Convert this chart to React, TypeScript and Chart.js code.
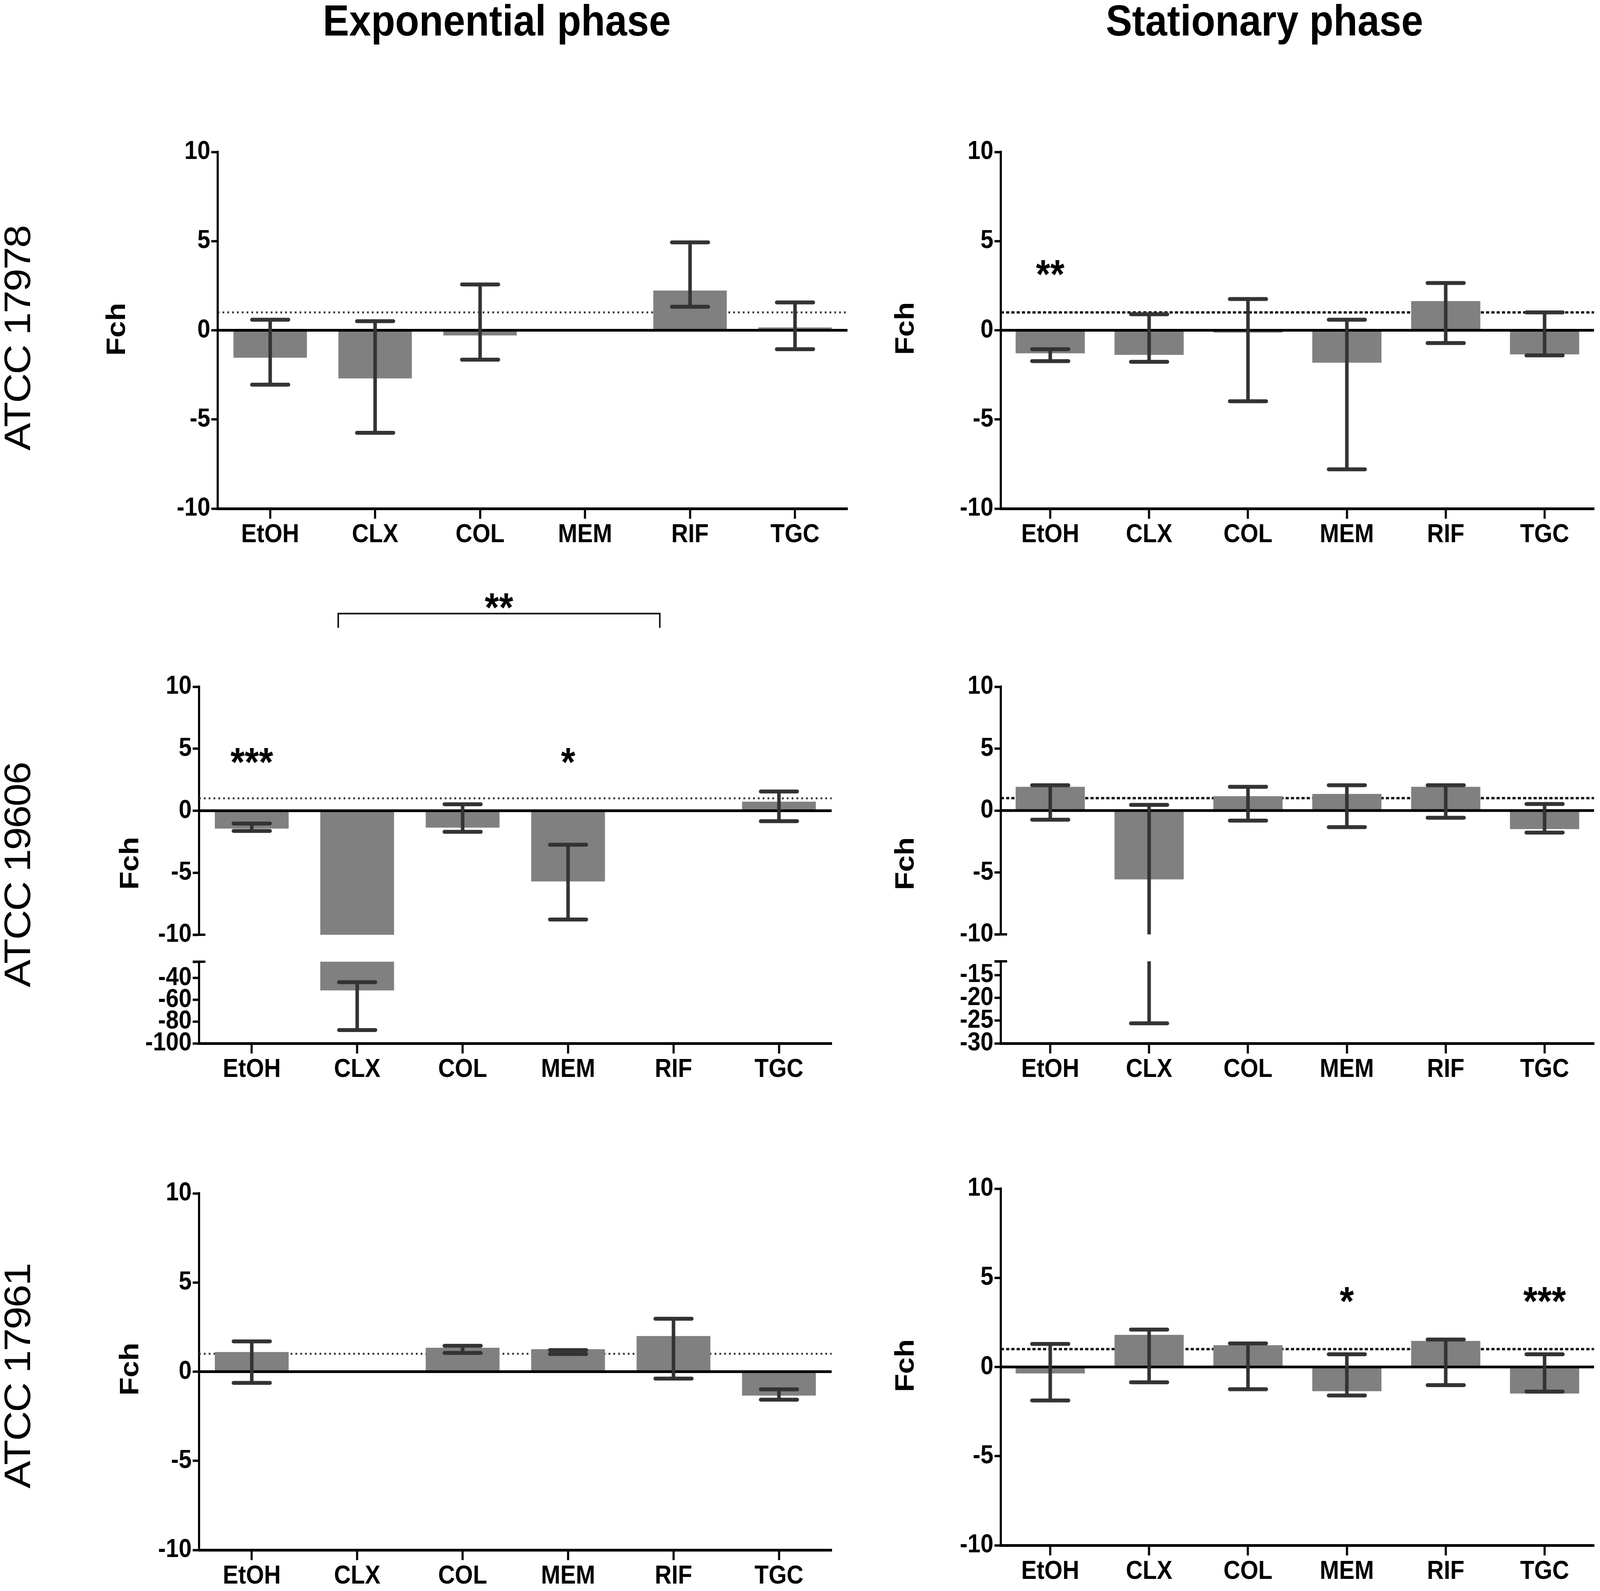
import React, { useEffect, useRef } from 'react';
import Chart from 'chart.js/auto';

const FONT = '"Liberation Sans", Arial, Helvetica, sans-serif';

// the figure is laid out on a 4550 x 4073 sheet
const SHEET_W = 4550;
const SHEET_H = 4073;

const categories = ['EtOH', 'CLX', 'COL', 'MEM', 'RIF', 'TGC'];

// Exponential phase, ATCC 17978
const exp17978Fch = [-1.54, -2.7, -0.29, null, 2.23, 0.16];
const exp17978Hi = [0.59, 0.51, 2.57, null, 4.93, 1.56];
const exp17978Lo = [-3.05, -5.75, -1.65, null, 1.32, -1.06];

// Stationary phase, ATCC 17978
const stat17978Fch = [-1.29, -1.38, -0.13, -1.82, 1.64, -1.35];
const stat17978Hi = [-1.06, 0.9, 1.75, 0.59, 2.65, 1.0];
const stat17978Lo = [-1.73, -1.77, -3.98, -7.8, -0.72, -1.41];
const stat17978Stars = ['**', '', '', '', '', ''];

// Exponential phase, ATCC 19606 (broken axis)
const exp19606Fch = [-1.44, -51.4, -1.36, -5.7, null, 0.73];
const exp19606Hi = [-1.03, -43.8, 0.52, -2.74, null, 1.55];
const exp19606Lo = [-1.63, -87.8, -1.7, -8.77, null, -0.84];
const exp19606Stars = ['***', '', '', '*', '', ''];

// Stationary phase, ATCC 19606 (broken axis)
const stat19606Fch = [1.92, -5.56, 1.16, 1.34, 1.92, -1.5];
const stat19606Hi = [2.04, 0.46, 1.92, 2.04, 2.04, 0.53];
const stat19606Lo = [-0.74, -25.6, -0.81, -1.34, -0.58, -1.78];

// Exponential phase, ATCC 17961
const exp17961Fch = [1.1, null, 1.34, 1.26, 2.0, -1.34];
const exp17961Hi = [1.7, null, 1.45, 1.21, 2.97, -0.99];
const exp17961Lo = [-0.63, null, 1.05, 0.99, -0.39, -1.57];

// Stationary phase, ATCC 17961
const stat17961Fch = [-0.36, 1.8, 1.22, -1.36, 1.46, -1.49];
const stat17961Hi = [1.29, 2.1, 1.32, 0.71, 1.54, 0.71];
const stat17961Lo = [-1.88, -0.86, -1.25, -1.6, -1.02, -1.38];
const stat17961Stars = ['', '', '', '*', '', '***'];

const mainTicks = [10, 5, 0, -5, -10];
const exp19606LowTicks = [-25, -40, -60, -80, -100];
const stat19606LowTicks = [-12, -15, -20, -25, -30];

type Val = number | null;

interface Bracket {
  from: number;
  to: number;
  lineY: number;
  endY: number;
  label: string;
  labelY: number;
}

interface PanelProps {
  left: number;
  right: number;
  top: number;
  bottom: number;
  yMin: number;
  yMax: number;
  ticks: number[];
  hideLabels?: number[];
  showX: boolean;
  fch: Val[];
  hi: Val[];
  lo: Val[];
  dotted: boolean;
  stars?: string[];
  starY?: number;
  bracket?: Bracket;
  breakTop?: boolean;
  breakBottom?: boolean;
  padTop?: number;
}

const Panel: React.FC<PanelProps> = (p) => {
  const chartRef = useRef<HTMLCanvasElement>(null);
  const yAxisW = 220;
  const padRight = 30;
  const padTop = p.padTop ?? 60;
  const xAxisH = p.showX ? 130 : 0;
  const padBottom = p.showX ? 10 : 50;
  const cLeft = p.left - yAxisW;
  const cTop = p.top - padTop;
  const cW = p.right - cLeft + padRight;
  const cH = padTop + (p.bottom - p.top) + xAxisH + padBottom;

  useEffect(() => {
    if (!chartRef.current) return;
    const hide = p.hideLabels || [];

    const marks = {
      id: 'panelMarks',
      beforeDatasetsDraw(chart: any) {
        const { ctx, chartArea: a, scales } = chart;
        const y = scales.y;
        // reference line at Fch = 1, under the bars
        if (1 >= p.yMin && 1 <= p.yMax) {
          const py = y.getPixelForValue(1);
          ctx.save();
          ctx.strokeStyle = p.dotted ? '#333' : '#111';
          ctx.lineWidth = p.dotted ? 5 : 6;
          ctx.setLineDash(p.dotted ? [5, 8.7] : [9, 6]);
          ctx.beginPath();
          ctx.moveTo(a.left, py);
          ctx.lineTo(a.right, py);
          ctx.stroke();
          ctx.restore();
        }
      },
      afterDatasetsDraw(chart: any) {
        const { ctx, chartArea: a, scales } = chart;
        const x = scales.x;
        const y = scales.y;

        // zero line
        if (0 >= p.yMin && 0 <= p.yMax) {
          const py = y.getPixelForValue(0);
          ctx.save();
          ctx.strokeStyle = '#000';
          ctx.lineWidth = 7;
          ctx.beginPath();
          ctx.moveTo(a.left, py);
          ctx.lineTo(a.right, py);
          ctx.stroke();
          ctx.restore();
        }

        // error bars, cut at the plot edges
        ctx.save();
        ctx.beginPath();
        ctx.rect(a.left, a.top - 8, a.right - a.left, a.bottom - a.top + 16);
        ctx.clip();
        ctx.strokeStyle = '#333';
        p.fch.forEach((v, i) => {
          const h = p.hi[i];
          const l = p.lo[i];
          if (v === null || h === null || l === null) return;
          const px = x.getPixelForValue(i);
          const top = Math.max(y.getPixelForValue(h), a.top);
          const bot = Math.min(y.getPixelForValue(l), a.bottom);
          if (bot > a.top && top < a.bottom) {
            ctx.lineWidth = 10;
            ctx.lineCap = 'butt';
            ctx.beginPath();
            ctx.moveTo(px, top);
            ctx.lineTo(px, bot);
            ctx.stroke();
          }
          ctx.lineWidth = 10;
          ctx.lineCap = 'round';
          [h, l].forEach((e) => {
            if (e < p.yMin || e > p.yMax) return;
            const ey = y.getPixelForValue(e);
            ctx.beginPath();
            ctx.moveTo(px - 52, ey);
            ctx.lineTo(px + 52, ey);
            ctx.stroke();
          });
        });
        ctx.restore();
      },
      afterDraw(chart: any) {
        const { ctx, chartArea: a, scales } = chart;
        const x = scales.x;
        const y = scales.y;
        ctx.save();
        ctx.fillStyle = '#000';
        ctx.strokeStyle = '#000';
        ctx.font = `bold 104px ${FONT}`;
        ctx.textAlign = 'center';
        ctx.textBaseline = 'alphabetic';
        if (p.stars && p.starY !== undefined) {
          const sy = y.getPixelForValue(p.starY) + 57;
          p.stars.forEach((s, i) => {
            if (s) ctx.fillText(s, x.getPixelForValue(i), sy);
          });
        }
        if (p.bracket) {
          const b = p.bracket;
          const x1 = x.getPixelForValue(b.from);
          const x2 = x.getPixelForValue(b.to);
          const ly = y.getPixelForValue(b.lineY);
          const ey = y.getPixelForValue(b.endY);
          ctx.lineWidth = 4;
          ctx.beginPath();
          ctx.moveTo(x1, ey);
          ctx.lineTo(x1, ly);
          ctx.lineTo(x2, ly);
          ctx.lineTo(x2, ey);
          ctx.stroke();
          ctx.fillText(b.label, (x1 + x2) / 2, y.getPixelForValue(b.labelY) + 57);
        }
        // short end marks where the axis is broken
        ctx.lineWidth = 6;
        if (p.breakBottom) {
          ctx.beginPath();
          ctx.moveTo(a.left - 18, a.bottom);
          ctx.lineTo(a.left + 18, a.bottom);
          ctx.stroke();
        }
        if (p.breakTop) {
          ctx.beginPath();
          ctx.moveTo(a.left - 18, a.top);
          ctx.lineTo(a.left + 18, a.top);
          ctx.stroke();
        }
        ctx.restore();
      },
    };

    const chart = new Chart(chartRef.current, {
      type: 'bar',
      data: {
        labels: categories,
        datasets: [
          {
            data: p.fch as any,
            backgroundColor: 'rgb(128, 128, 128)',
            borderWidth: 0,
            barPercentage: 0.7,
            categoryPercentage: 1,
            clip: 0,
          },
        ],
      },
      options: {
        animation: false,
        responsive: false,
        maintainAspectRatio: false,
        devicePixelRatio: 1,
        events: [],
        layout: { padding: { left: 0, right: padRight, top: padTop, bottom: padBottom } },
        plugins: {
          legend: { display: false },
          tooltip: { enabled: false },
          title: { display: false },
        },
        scales: {
          x: {
            display: p.showX,
            offset: true,
            grid: {
              drawOnChartArea: false,
              offset: false,
              tickLength: 26,
              tickWidth: 6,
              tickColor: '#000',
              color: '#000',
            },
            border: { display: true, color: '#000', width: 7 },
            ticks: {
              color: '#000',
              font: { family: FONT, size: 66, weight: 'bold' },
              padding: 2,
              maxRotation: 0,
              autoSkip: false,
            },
            afterFit: (s: any) => {
              s.height = xAxisH;
            },
          },
          y: {
            min: p.yMin,
            max: p.yMax,
            afterBuildTicks: (s: any) => {
              s.ticks = p.ticks.map((v) => ({ value: v }));
            },
            grid: {
              drawOnChartArea: false,
              tickLength: 18,
              tickWidth: 6,
              tickColor: '#000',
              color: '#000',
            },
            border: { display: true, color: '#000', width: 6 },
            ticks: {
              color: '#000',
              font: { family: FONT, size: 66, weight: 'bold' },
              padding: 3,
              autoSkip: false,
              callback: (v: any) => (hide.includes(Number(v)) ? '' : String(v)),
            },
            afterFit: (s: any) => {
              s.width = yAxisW;
            },
          },
        },
      },
      plugins: [marks],
    });

    return () => {
      chart.destroy();
    };
  }, []);

  return (
    <canvas
      ref={chartRef}
      width={cW}
      height={cH}
      style={{ position: 'absolute', left: cLeft, top: cTop, width: cW, height: cH }}
    />
  );
};

interface TextProps {
  text: string;
  x: number;
  y: number;
  size: number;
  bold?: boolean;
  rotate?: boolean;
  spacing?: number;
}

const Text: React.FC<TextProps> = ({ text, x, y, size, bold, rotate, spacing }) => (
  <div
    style={{
      position: 'absolute',
      left: x,
      top: y,
      transform: `translate(-50%, -50%)${rotate ? ' rotate(-90deg)' : ''}`,
      fontFamily: FONT,
      fontSize: size,
      fontWeight: bold ? 700 : 400,
      lineHeight: 1,
      letterSpacing: spacing || 0,
      whiteSpace: 'nowrap',
      color: '#000',
    }}
  >
    {text}
  </div>
);

const App: React.FC = () => {
  // the window may be narrower than the sheet, so fit the sheet into it
  const sx = Math.min(1, window.innerWidth / SHEET_W);
  const sy = Math.min(1, window.innerHeight / SHEET_H);

  return (
    <div
      style={{
        position: 'absolute',
        left: 0,
        top: 0,
        width: SHEET_W,
        height: SHEET_H,
        background: '#fff',
        overflow: 'hidden',
        transform: `scale(${sx}, ${sy})`,
        transformOrigin: '0 0',
      }}
    >
      <Text text="Exponential phase" x={1413} y={53} size={112} bold />
      <Text text="Stationary phase" x={3596} y={53} size={112} bold />

      <Text text="ATCC 17978" x={48} y={866} size={106} rotate spacing={-3} />
      <Text text="ATCC 19606" x={49} y={2240} size={106} rotate spacing={-3} />
      <Text text="ATCC 17961" x={48} y={3523} size={106} rotate spacing={-3} />

      <Text text="Fch" x={329} y={843} size={76} bold rotate />
      <Text text="Fch" x={2572} y={841} size={76} bold rotate />
      <Text text="Fch" x={367} y={2210} size={76} bold rotate />
      <Text text="Fch" x={2572} y={2211} size={76} bold rotate />
      <Text text="Fch" x={367} y={3505} size={76} bold rotate />
      <Text text="Fch" x={2572} y={3496} size={76} bold rotate />

      <Panel left={619} right={2410} top={389} bottom={1302} yMin={-10} yMax={10} ticks={mainTicks} showX
        fch={exp17978Fch} hi={exp17978Hi} lo={exp17978Lo} dotted />
      <Panel left={2846} right={4533} top={389} bottom={1302} yMin={-10} yMax={10} ticks={mainTicks} showX
        fch={stat17978Fch} hi={stat17978Hi} lo={stat17978Lo} dotted={false} stars={stat17978Stars} starY={3.61} />

      <Panel left={566} right={2365} top={1758} bottom={2393} yMin={-10} yMax={10} ticks={mainTicks} showX={false}
        fch={exp19606Fch} hi={exp19606Hi} lo={exp19606Lo} dotted stars={exp19606Stars} starY={4.58}
        bracket={{ from: 0.82, to: 3.87, lineY: 15.9, endY: 14.75, label: '**', labelY: 17.07 }}
        breakBottom padTop={320} />
      <Panel left={566} right={2365} top={2462} bottom={2671} yMin={-100} yMax={-25} ticks={exp19606LowTicks}
        hideLabels={[-25]} showX fch={exp19606Fch} hi={exp19606Hi} lo={exp19606Lo} dotted breakTop />

      <Panel left={2846} right={4533} top={1758} bottom={2392} yMin={-10} yMax={10} ticks={mainTicks} showX={false}
        fch={stat19606Fch} hi={stat19606Hi} lo={stat19606Lo} dotted={false} breakBottom />
      <Panel left={2846} right={4533} top={2461} bottom={2671} yMin={-30} yMax={-12} ticks={stat19606LowTicks}
        hideLabels={[-12]} showX fch={stat19606Fch} hi={stat19606Hi} lo={stat19606Lo} dotted={false} breakTop />

      <Panel left={566} right={2365} top={3055} bottom={3968} yMin={-10} yMax={10} ticks={mainTicks} showX
        fch={exp17961Fch} hi={exp17961Hi} lo={exp17961Lo} dotted />
      <Panel left={2846} right={4533} top={3043} bottom={3956} yMin={-10} yMax={10} ticks={mainTicks} showX
        fch={stat17961Fch} hi={stat17961Hi} lo={stat17961Lo} dotted={false} stars={stat17961Stars} starY={4.16} />
    </div>
  );
};

export default App;
